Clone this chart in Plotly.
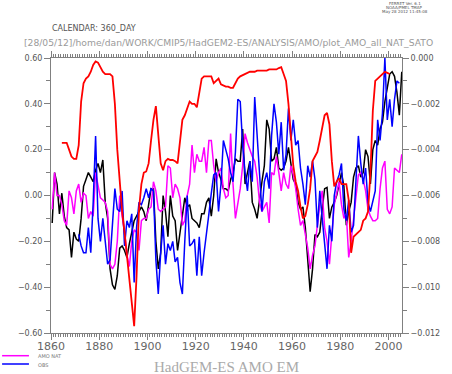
import plotly.graph_objects as go

# ---- data (annual means, 1860-2005) ----
years_all = list(range(1860, 2006))
amo_all = [
    -0.12, 0.10, 0.05, -0.08, 0.01, -0.09, -0.14, -0.15, -0.27, -0.16,
    -0.19, -0.20, -0.10, 0.04, 0.07, 0.10, 0.08, 0.06, 0.11, 0.14,
    0.10, 0.155, -0.03, -0.10, -0.32, -0.39, -0.41, -0.35, -0.23, -0.22,
    -0.24, -0.27, -0.21, -0.16, -0.11, -0.09, -0.07, -0.05, -0.07, -0.11,
    -0.04, 0.03, 0.03, -0.20, -0.32, -0.25, 0.0, -0.07, -0.18, 0.0,
    -0.09, -0.11, -0.24, -0.17, -0.10, -0.01, -0.05, -0.04, -0.10, -0.11,
    -0.12, -0.14, -0.08, -0.08, -0.03, -0.01, -0.09, 0.0, 0.16, 0.10,
    0.07, 0.03, 0.03, 0.02, 0.07, 0.10, 0.16, 0.15, 0.15, 0.29,
    0.05, 0.10, 0.15, -0.03, -0.06, -0.10, -0.01, 0.06, 0.13, 0.33,
    0.29, 0.15, 0.16, 0.21, 0.12, 0.11, 0.12, 0.15, 0.21, 0.13,
    0.07, 0.05, -0.03, -0.06, -0.05, -0.14, -0.27, -0.42, -0.32, -0.17,
    -0.18, -0.16, -0.06, 0.03, 0.035, -0.10, -0.05, -0.03, 0.0, 0.05,
    0.10, 0.04, -0.13, -0.07, -0.03, 0.08, 0.12, 0.13, 0.08, 0.10,
    0.20, 0.17, 0.05, 0.20, 0.24, 0.22, 0.29, 0.32, 0.41, 0.47,
    0.53, 0.54, 0.52, 0.45, 0.35, 0.54,
]
amo_nat = [
    -0.06, 0.10, 0.0, 0.0, -0.04, -0.11, -0.13, 0.02, -0.01, -0.08,
    0.02, 0.05, -0.03, 0.01, 0.0, -0.10, -0.07, -0.09, 0.10, 0.04,
    -0.01, -0.02, -0.03, -0.07, -0.30, -0.32, -0.30, -0.20, 0.0, -0.09,
    -0.16, -0.26, -0.31, -0.20, -0.15, -0.16, -0.24, -0.11, -0.10, -0.10,
    -0.06, -0.05, 0.06, 0.02, -0.06, -0.07, -0.06, -0.05, 0.13, 0.12,
    -0.01, 0.05, 0.03, -0.01, -0.13, -0.11, 0.0, 0.05, 0.22, 0.10,
    0.18, 0.15, 0.15, 0.21, 0.10, 0.24, 0.24, 0.13, 0.06, 0.10,
    0.12, 0.03, -0.01, 0.0, 0.27, 0.05, -0.10, -0.03, 0.03, 0.13,
    0.27, 0.23, 0.20, 0.17, 0.15, 0.08, -0.03, -0.07, -0.05, -0.03,
    -0.12, 0.10, 0.09, 0.17, 0.10, 0.02, 0.10, 0.05, 0.03, 0.13,
    0.09, 0.03, -0.06, -0.13, -0.11, -0.17, -0.23, -0.32, -0.26, -0.22,
    -0.13, -0.04, 0.02, -0.14, -0.20, -0.30, -0.17, -0.04, 0.01, 0.06,
    -0.04, -0.10, -0.08, -0.27, -0.20, -0.10, 0.01, 0.09, 0.10, 0.07,
    0.02, -0.06, -0.09, -0.11, -0.11, -0.10, 0.03, 0.12, 0.15, -0.06,
    -0.08, -0.05, 0.12, 0.11, 0.10, 0.18,
]

years_obs = list(range(1871, 2005))
obs = [
    -0.17, -0.22, -0.25, -0.25, -0.14, -0.25, -0.03, 0.26, -0.10,
    -0.20, -0.10, -0.20, -0.30, -0.28, -0.10, 0.03, -0.06, -0.07, 0.02,
    -0.22, -0.11, -0.14, -0.08, -0.38, -0.14, -0.03, -0.04, -0.01, 0.03,
    -0.01, 0.03, 0.02, -0.28, -0.43, -0.25, -0.13, -0.30, -0.21, -0.24,
    -0.20, -0.29, -0.27, -0.38, -0.43, -0.20, 0.0, -0.22, -0.21, -0.19,
    -0.35, -0.18, -0.35, -0.25, -0.15, -0.08, 0.01, 0.09, 0.10, -0.07,
    0.05, 0.24, 0.20, 0.16, 0.10, 0.06, 0.19, 0.42, 0.41, 0.22,
    0.10, 0.02, 0.15, 0.06, 0.43, 0.25, 0.11, -0.07, 0.06, 0.10,
    0.03, 0.26, 0.40, 0.32, 0.18, 0.32, 0.11, 0.18, 0.38, 0.24,
    0.33, 0.22, 0.24, 0.12, 0.05, -0.04, 0.13, 0.08, 0.15, 0.07,
    -0.14, 0.02, -0.10, -0.20, -0.32, -0.13, -0.20, 0.0, 0.06, 0.09,
    0.14, -0.06, -0.11, -0.02, -0.16, -0.13, 0.10, 0.26, 0.14, 0.05,
    0.12, -0.03, -0.07, -0.03, 0.02, 0.33, 0.24, 0.36, 0.60, 0.33,
    0.42, 0.30, 0.42, 0.50, 0.49,
]

# smoothed forcing-type series on the right-hand axis
years_sato = list(range(1864, 2001))
sato = [
    -0.0037, -0.0037, -0.0037, -0.0040, -0.0043, -0.0044, -0.0044, -0.0038,
    -0.0019, -0.0011, -0.0009, -0.0008, -0.0006, -0.0003, -0.00015, -0.0002,
    -0.0004, -0.0006, -0.0007, -0.0007, -0.0007, -0.0008, -0.0020, -0.0040,
    -0.0055, -0.0067, -0.0076, -0.0087, -0.0096, -0.0106, -0.0117, -0.0095,
    -0.0066, -0.0055, -0.0050, -0.00495, -0.0046, -0.0036, -0.0027, -0.0021,
    -0.0034, -0.0046, -0.0049, -0.0045, -0.0044, -0.00445, -0.00445, -0.0045,
    -0.0046, -0.0036, -0.0027, -0.0025, -0.0022, -0.0019, -0.0020, -0.0020,
    -0.00215, -0.0015, -0.0009, -0.0008, -0.0008, -0.0008, -0.0008, -0.0011,
    -0.0010, -0.0009, -0.00115, -0.0012, -0.00125, -0.00125, -0.0013, -0.0013,
    -0.0011, -0.0009, -0.0008, -0.00075, -0.0007, -0.00065, -0.0006, -0.0006,
    -0.0006, -0.00055, -0.00055, -0.00055, -0.00055, -0.00055, -0.0005, -0.0005,
    -0.0005, -0.0005, -0.00044, -0.0004, -0.0007, -0.0010, -0.0020, -0.0035,
    -0.0047, -0.0054, -0.0058, -0.0065, -0.0070, -0.0069, -0.0064, -0.0057,
    -0.0045, -0.0043, -0.0041, -0.0036, -0.0030, -0.0025, -0.0024, -0.0029,
    -0.0045, -0.0056, -0.0054, -0.00525, -0.0055, -0.0055, -0.0055, -0.0062,
    -0.0085, -0.0078, -0.0077, -0.0076, -0.0075, -0.0071, -0.0070, -0.0067,
    -0.0050, -0.0023, -0.0010, -0.0009, -0.0008, -0.0007, -0.0006, -0.00065,
    -0.0007,
]

left_ticks = [-0.6, -0.4, -0.2, 0.0, 0.2, 0.4, 0.6]
right_ticks = [-0.012, -0.010, -0.008, -0.006, -0.004, -0.002, 0.0]
x_ticks = [1860, 1880, 1900, 1920, 1940, 1960, 1980, 2000]

assert len(amo_all) == len(years_all) and len(amo_nat) == len(years_all)
assert len(obs) == len(years_obs) and len(sato) == len(years_sato)

mid = lambda ys: [y + 0.5 for y in ys]  # annual means at mid-year

fig = go.Figure()
fig.add_trace(go.Scatter(x=mid(years_all), y=amo_all, mode="lines",
                         line=dict(color="#000000", width=1.5), name="AMO ALL"))
fig.add_trace(go.Scatter(x=mid(years_all), y=amo_nat, mode="lines",
                         line=dict(color="#ff00ff", width=1.5), name="AMO NAT"))
fig.add_trace(go.Scatter(x=mid(years_obs), y=obs, mode="lines",
                         line=dict(color="#0000ff", width=1.5), name="OBS"))
fig.add_trace(go.Scatter(x=mid(years_sato), y=sato, mode="lines", yaxis="y2",
                         line=dict(color="#ff0000", width=1.8), name="SATO"))

axcol = "#808080"
fig.update_layout(
    width=452, height=374,
    margin=dict(l=51, r=35, t=58, b=41),
    paper_bgcolor="white", plot_bgcolor="white",
    showlegend=False,
    font=dict(family="DejaVu Sans", color="#555555"),
    xaxis=dict(range=[1860, 2005.6], tickvals=x_ticks, ticks="outside",
               ticklen=6, tickwidth=1, tickcolor=axcol, showline=True,
               linecolor=axcol, linewidth=1, mirror="ticks", showgrid=False,
               zeroline=False, tickfont=dict(size=11, color="#666666"),
               ticklabelstandoff=-3,
               minor=dict(tick0=1860, dtick=1, ticks="outside", ticklen=3,
                          tickcolor=axcol, showgrid=False)),
    yaxis=dict(range=[-0.6, 0.6], tickvals=left_ticks, tickformat=".2f",
               ticks="outside", ticklen=6, tickcolor=axcol, showline=True,
               linecolor=axcol, linewidth=1, showgrid=False, zeroline=False,
               tickfont=dict(size=8, color="#555555"),
               minor=dict(tick0=0, dtick=0.1, ticks="outside", ticklen=4,
                          tickcolor=axcol, showgrid=False)),
    yaxis2=dict(range=[-0.012, 0.0], tickvals=right_ticks, tickformat=".3f",
                overlaying="y", side="right", ticks="outside", ticklen=6,
                tickcolor=axcol, showline=True, linecolor=axcol, linewidth=1,
                showgrid=False, zeroline=False,
                tickfont=dict(size=8, color="#555555"),
                minor=dict(tick0=0, dtick=0.001, ticks="outside", ticklen=4,
                           tickcolor=axcol, showgrid=False)),
)

def px(x):
    return (x - 51) / 366.0

def py(y):
    return (333 - y) / 275.0

ann = [
    dict(text="CALENDAR: 360_DAY", x=px(50), y=py(29), xanchor="left",
         font=dict(size=8, color="#555555")),
    dict(text="[28/05/12]/home/dan/WORK/CMIP5/HadGEM2-ES/ANALYSIS/AMO/plot_AMO_all_NAT_SATO",
         x=px(236.5), y=py(42.5), xanchor="center",
         font=dict(size=9.2, color="#9a9a9a")),
    dict(text="FERRET Ver. 6.1", x=px(420), y=py(3.5), xanchor="center",
         font=dict(size=4, color="#555555")),
    dict(text="NOAA/PMEL TMAP", x=px(420), y=py(7.5), xanchor="center",
         font=dict(size=4, color="#555555")),
    dict(text="May 28 2012 11:45:08", x=px(420), y=py(11.5), xanchor="center",
         font=dict(size=4, color="#555555")),
    dict(text="AMO NAT", x=px(35), y=py(356), xanchor="left",
         font=dict(size=5, color="#777777")),
    dict(text="OBS", x=px(35), y=py(364.5), xanchor="left",
         font=dict(size=5, color="#777777")),
    dict(text="HadGEM-ES AMO EM", x=px(234), y=py(367), xanchor="center",
         font=dict(size=15, color="#aaaaaa", family="Liberation Serif")),
]
for a in ann:
    fig.add_annotation(xref="paper", yref="paper", showarrow=False,
                       yanchor="middle", **a)

fig.add_shape(type="line", xref="paper", yref="paper", x0=px(0), x1=px(28),
              y0=py(355.7), y1=py(355.7), line=dict(color="#ff00ff", width=1.5))
fig.add_shape(type="line", xref="paper", yref="paper", x0=px(0), x1=px(28),
              y0=py(364), y1=py(364), line=dict(color="#0000ff", width=1.5))

fig.write_html("out.html", config={"displayModeBar": False},
               post_script="document.body.style.margin='0';document.body.style.padding='0';")
